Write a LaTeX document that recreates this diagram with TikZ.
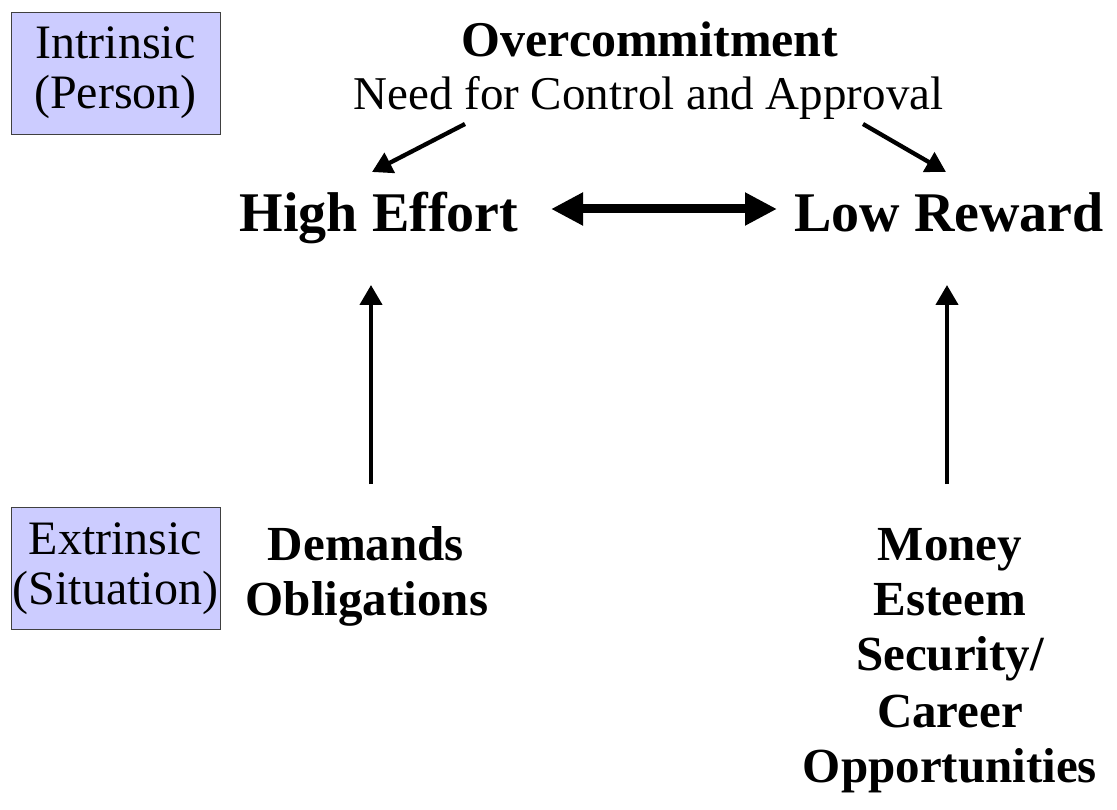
\documentclass[tikz,border=0pt]{standalone}
\usepackage{fontspec}
\setmainfont{Liberation Serif}
\usetikzlibrary{arrows.meta}
\begin{document}
\begin{tikzpicture}[x=1pt,y=-1pt,
  lbl/.style={inner sep=0pt,anchor=base},
  big/.style={lbl,font=\fontsize{56}{60}\selectfont\bfseries},
  mid/.style={lbl,font=\fontsize{49}{55}\selectfont\bfseries},
  plain/.style={lbl,font=\fontsize{47}{50}\selectfont},
  tag/.style={draw=black!75,line width=0.8pt,fill={rgb,255:red,204;green,204;blue,255},
    minimum width=209pt,minimum height=122pt,inner sep=0pt,align=center,
    font=\fontsize{48}{50}\selectfont},
  thin/.style={line width=4.3pt,-{Triangle[length=20pt,width=22pt]}},
  thick/.style={line width=9pt,{Triangle[length=32pt,width=31pt]}-{Triangle[length=32pt,width=31pt]}}
]
\useasboundingbox (0,0) rectangle (1117,810);

% category tags
\node[tag] (intr) at (115.5,73) {Intrinsic\\(Person)};
\node[tag] (extr) at (115.5,568.5) {Extrinsic\\(Situation)};

% top labels
\node[mid,font=\fontsize{50}{55}\selectfont\bfseries] (over) at (650,57) {Overcommitment};
\node[plain] (need) at (648.5,110) {Need for Control and Approval};

% central pair
\node[big] (he) at (379,232) {High Effort};
\node[big] (lr) at (949,232) {Low Reward};

% situational factors
\node[mid] (dem) at (366,560) {Demands};
\node[mid] (obl) at (367,615) {Obligations};
\node[mid] (mon) at (950,560) {Money};
\node[mid] (est) at (950,615) {Esteem};
\node[mid] (sec) at (950,670) {Security/};
\node[mid] (car) at (950,727) {Career};
\node[mid] (opp) at (950,782) {Opportunities};

% arrow end points
\coordinate (needL) at (465,124);
\coordinate (heTop) at (372,172);
\coordinate (needR) at (863,124);
\coordinate (lrTop) at (946,172);
\coordinate (heR) at (551,209);
\coordinate (lrL) at (777,209);
\coordinate (demTop) at (371,484);
\coordinate (heBot) at (371,285);
\coordinate (monTop) at (947,484);
\coordinate (lrBot) at (947,285);

\draw[thin] (needL) -- (heTop);
\draw[thin] (needR) -- (lrTop);
\draw[thick] (heR) -- (lrL);
\draw[thin] (demTop) -- (heBot);
\draw[thin] (monTop) -- (lrBot);
\end{tikzpicture}
\end{document}
